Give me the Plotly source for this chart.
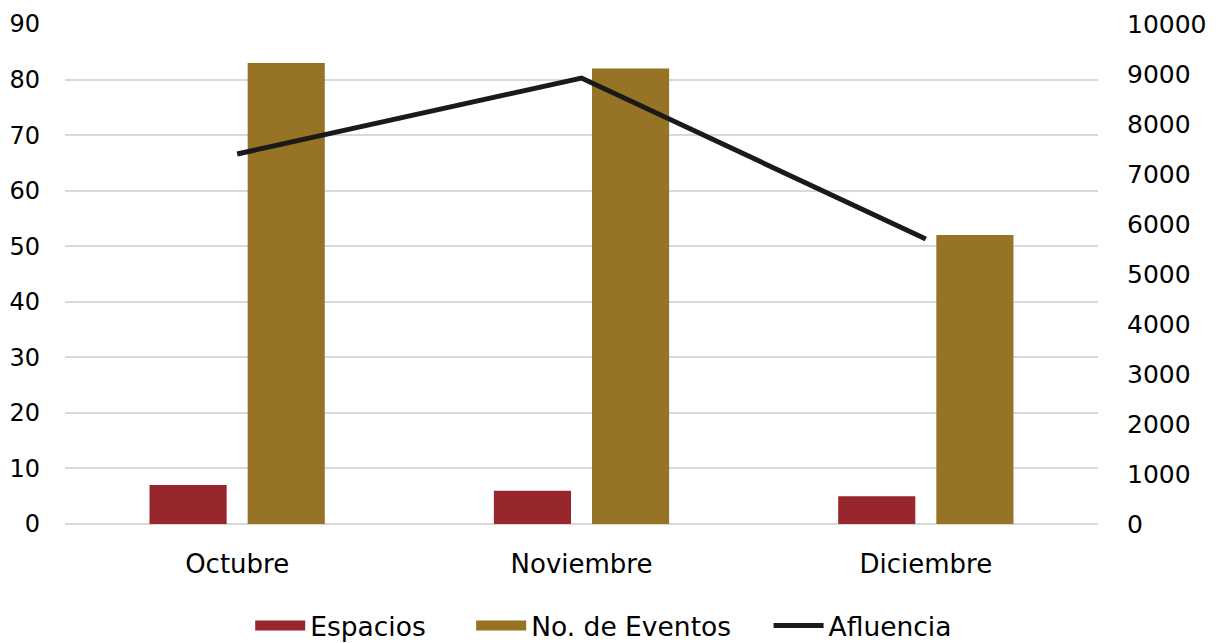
import plotly.graph_objects as go

meses = ["Octubre", "Noviembre", "Diciembre"]
espacios = [7, 6, 5]
eventos = [83, 82, 52]
afluencia = [7400, 8920, 5700]

color_esp = "#97262d"
color_ev = "#977325"
color_af = "#1a1a1a"

font_family = "DejaVu Sans, Verdana, sans-serif"

# the page body adds an 8px offset, so the figure is sized to fit the window
W, H = 1214, 635

fig = go.Figure()
fig.add_trace(go.Bar(x=meses, y=espacios, name="Espacios", marker_color=color_esp,
                     marker_line_width=0, showlegend=False))
fig.add_trace(go.Bar(x=meses, y=eventos, name="No. de Eventos", marker_color=color_ev,
                     marker_line_width=0, showlegend=False))
fig.add_trace(go.Scatter(x=meses, y=afluencia, name="Afluencia", mode="lines",
                         line=dict(color=color_af, width=5), yaxis="y2", showlegend=False))
# legend entries (wide swatches like the original)
fig.add_trace(go.Scatter(x=[None], y=[None], name="Espacios", mode="lines",
                         line=dict(color=color_esp, width=16), legend="legend"))
fig.add_trace(go.Scatter(x=[None], y=[None], name="No. de Eventos", mode="lines",
                         line=dict(color=color_ev, width=16), legend="legend2"))
fig.add_trace(go.Scatter(x=[None], y=[None], name="Afluencia", mode="lines",
                         line=dict(color=color_af, width=5), legend="legend3", yaxis="y2"))

leg_common = dict(orientation="h", xref="container", yref="container", xanchor="left",
                  yanchor="middle", y=0.027, font=dict(size=26.5),
                  bgcolor="rgba(0,0,0,0)", itemwidth=50)

fig.update_layout(
    width=W, height=H,
    margin=dict(l=57, r=124, t=16, b=119, autoexpand=False),
    paper_bgcolor="white", plot_bgcolor="white",
    font=dict(family=font_family, size=25, color="#000000"),
    barmode="group", bargap=0.43, bargroupgap=0.214,
    xaxis=dict(type="category", showgrid=False, showline=False, ticks="",
               tickfont=dict(size=26), ticklabelstandoff=22, automargin=False),
    yaxis=dict(range=[0, 90], dtick=10, showgrid=True, gridcolor="#d9d9d9", gridwidth=2,
               zeroline=True, zerolinecolor="#d9d9d9", zerolinewidth=2,
               showline=False, ticks="", tickfont=dict(size=24), ticklabelstandoff=24,
               automargin=False),
    yaxis2=dict(range=[0, 10000], dtick=1000, tickformat="d", overlaying="y", side="right",
                showgrid=False, zeroline=False, showline=False, ticks="",
                tickfont=dict(size=25), ticklabelstandoff=28, automargin=False),
    legend=dict(x=0.1995, **leg_common),
    legend2=dict(x=0.3815, **leg_common),
    legend3=dict(x=0.6265, **leg_common),
    showlegend=True,
)

fig.write_html("out.html")
